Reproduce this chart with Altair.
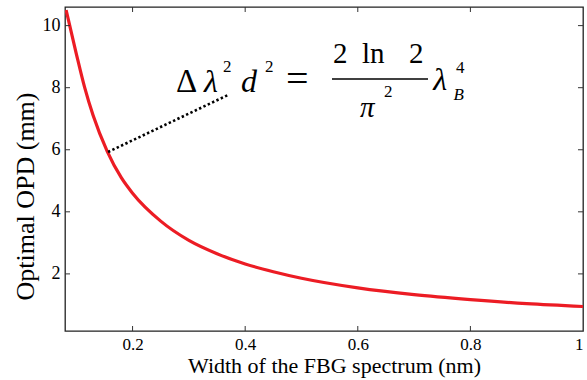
import altair as alt
import pandas as pd

# Curve
width_nm = [0.082, 0.10, 0.115, 0.13, 0.155, 0.18, 0.20, 0.25, 0.30, 0.35,
            0.40, 0.45, 0.50, 0.60, 0.70, 0.80, 0.90, 1.00]
opd_mm = [10.5, 9.1, 8.0, 7.1, 5.95, 5.1, 4.6, 3.7, 3.08, 2.65,
          2.32, 2.07, 1.86, 1.55, 1.33, 1.17, 1.04, 0.95]

x_ticks = [0.2, 0.4, 0.6, 0.8, 1.0]
y_ticks = [2, 4, 6, 8, 10]
x_dom = [0.08, 1.0]
y_dom = [0.16, 10.6]

# Dotted pointer (data coordinates)
ptr_x = [0.1564, 0.3695]
ptr_y = [5.928, 7.764]

# Equation pieces (data coordinates)
eq_normal_big = pd.DataFrame({"t": ["Δ"], "x": [0.2771], "y": [7.861]})
eq_equals = pd.DataFrame({"t": ["="], "x": [0.4725], "y": [7.861]})
eq_num = pd.DataFrame({"t": ["2", "ln", "2"], "x": [0.5560, 0.6075, 0.6910],
                       "y": [8.796, 8.796, 8.796]})
eq_sup = pd.DataFrame({"t": ["2", "2", "2", "4"],
                       "x": [0.3606, 0.4352, 0.6466, 0.7745],
                       "y": [8.506, 8.506, 7.70, 8.473]})
eq_ital_big = pd.DataFrame({"t": ["λ", "d", "λ"], "x": [0.3269, 0.3926, 0.7340],
                            "y": [7.861, 7.861, 7.926]})
eq_pi = pd.DataFrame({"t": ["π"], "x": [0.6039], "y": [7.056]})
eq_sub = pd.DataFrame({"t": ["B"], "x": [0.7700], "y": [7.603]})
bar = pd.DataFrame({"x": [0.5542], "x2": [0.7247], "y": [8.28]})

FONT = "Liberation Serif"

xs = alt.Scale(domain=x_dom, nice=False, zero=False)
ys = alt.Scale(domain=y_dom, nice=False, zero=False)

df = pd.DataFrame({"w": width_nm, "d": opd_mm})

curve = alt.Chart(df).mark_line(color="#ec1c24", strokeWidth=3.2, interpolate="monotone", clip=True).encode(
    x=alt.X("w:Q", scale=xs, title="Width of the FBG spectrum (nm)",
            axis=alt.Axis(values=x_ticks, labelFont=FONT, titleFont=FONT,
                          labelFontSize=17, labelPadding=5,
                          titleFontSize=22, titleBaseline="alphabetic", titleY=41, titleX=269,
                          labelExpr="datum.value == 1 ? '1' : format(datum.value, '.1f')")),
    y=alt.Y("d:Q", scale=ys, title="Optimal OPD (mm)",
            axis=alt.Axis(values=y_ticks, format="d", labelFont=FONT, titleFont=FONT,
                          labelFontSize=18, labelPadding=5,
                          titleFontSize=26, titleY=189, titlePadding=4)),
)

ptr = alt.Chart(pd.DataFrame({"x": ptr_x, "y": ptr_y})).mark_line(
    color="black", strokeWidth=2.6, strokeDash=[2.4, 2.4]).encode(x="x:Q", y="y:Q")

tick_len_x = 5 / 563.04 * 1.0
tick_len_y = 5 / 324 * (y_dom[1] - y_dom[0])
bt = pd.DataFrame({"x": x_ticks[:-1], "y": [y_dom[0]] * 4, "y2": [y_dom[0] + tick_len_y] * 4})
tt = pd.DataFrame({"x": x_ticks[:-1], "y": [y_dom[1] - tick_len_y] * 4, "y2": [y_dom[1]] * 4})
lt = pd.DataFrame({"y": y_ticks, "x": [x_dom[0]] * 5, "x2": [x_dom[0] + tick_len_x] * 5})
rt = pd.DataFrame({"y": y_ticks, "x": [x_dom[1] - tick_len_x] * 5, "x2": [x_dom[1]] * 5})
tick_col = "#333333"
ticks = [
    alt.Chart(bt).mark_rule(color=tick_col).encode(x="x:Q", y="y:Q", y2="y2:Q"),
    alt.Chart(tt).mark_rule(color=tick_col).encode(x="x:Q", y="y:Q", y2="y2:Q"),
    alt.Chart(lt).mark_rule(color=tick_col).encode(y="y:Q", x="x:Q", x2="x2:Q"),
    alt.Chart(rt).mark_rule(color=tick_col).encode(y="y:Q", x="x:Q", x2="x2:Q"),
]

def txt(d, size, style="normal"):
    return alt.Chart(d).mark_text(font=FONT, fontSize=size, fontStyle=style, fontWeight="normal",
                                  align="left", baseline="alphabetic", color="black").encode(
        x="x:Q", y="y:Q", text="t:N")

eq = [
    txt(eq_normal_big, 33),
    txt(eq_equals, 40),
    txt(eq_num, 29),
    txt(eq_sup, 17),
    txt(eq_ital_big, 32, "italic"),
    txt(eq_pi, 29, "italic"),
    txt(eq_sub, 17, "italic"),
    alt.Chart(bar).mark_rule(color="black", strokeWidth=1.6).encode(x="x:Q", x2="x2:Q", y="y:Q"),
]

chart = alt.layer(curve, ptr, *ticks, *eq).properties(
    width=518, height=324,
    padding={"left": 65, "top": 7, "right": 4, "bottom": 49},
    autosize=alt.AutoSizeParams(type="none"),
).configure(font=FONT).configure_view(
    stroke="#222222", strokeWidth=1.3).configure_axis(
    domain=False, ticks=False, grid=False,
    labelColor="black", titleColor="black", titleFontWeight="normal",
)

chart.save("out.html", embed_options={"renderer": "svg", "actions": False})
